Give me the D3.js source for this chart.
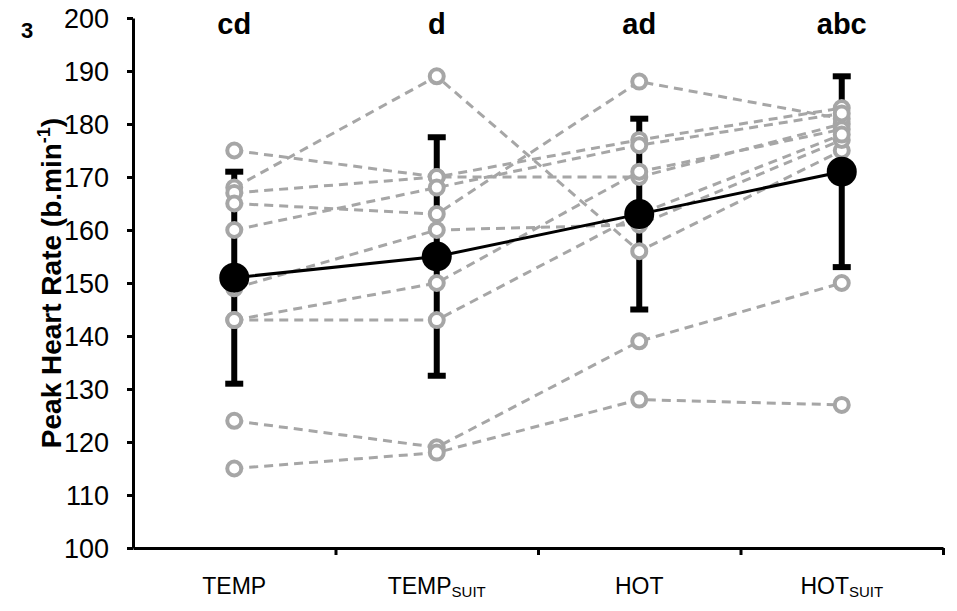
<!DOCTYPE html>
<html>
<head>
<meta charset="utf-8">
<script src="https://cdn.jsdelivr.net/npm/d3@7"></script>
<style>
  body { margin: 0; background: #fff; }
  text { font-family: Arial, "Liberation Sans", sans-serif; }
</style>
</head>
<body>
<div id="vis"></div>
<script>
// conditions on the x axis (main label + subscript)
var conditions = ['TEMP', 'TEMP_SUIT', 'HOT', 'HOT_SUIT'];
var condMain = ['TEMP', 'TEMP', 'HOT', 'HOT'];
var condSub = ['', 'SUIT', '', 'SUIT'];

// individual participants, peak HR per condition
var subjects = [
    [175, 170, 170, 180],
    [168, 189, 156, 175],
    [167, 170, 177, 183],
    [165, 163, 188, 181],
    [160, 168, 176, 182],
    [149, 160, 161, 177],
    [143, 150, 171, 179],
    [143, 143, 163, 178],
    [124, 119, 139, 150],
    [115, 118, 128, 127]
];

// group mean and SD
var means = [151, 155, 163, 171];
var sds = [20, 22.5, 18, 18];

// significance letters above each condition
var letters = ['cd', 'd', 'ad', 'abc'];

var yTicks = [100, 110, 120, 130, 140, 150, 160, 170, 180, 190, 200];

//setup drawing area
var svgW = 957, svgH = 611;
var pLeft = 133, pRight = 943, pTop = 18, pBottom = 548;
var grey = '#a6a6a6';

var svg = d3.select('#vis').append('svg').attr('width', svgW).attr('height', svgH);

var x = d3.scalePoint().domain(conditions).range([pLeft, pRight]).padding(0.5);
var xb = d3.scaleLinear().domain([0, conditions.length]).range([pLeft, pRight]);
var y = d3.scaleLinear().domain([100, 200]).range([pBottom, pTop]);

//y axis
var yAxis = svg.append('g').attr('transform', 'translate(' + pLeft + ',0)')
    .call(d3.axisLeft(y).tickValues(yTicks).tickSize(6).tickPadding(18).tickSizeOuter(0));
yAxis.select('.domain').attr('stroke', '#000').attr('stroke-width', 3);
yAxis.selectAll('.tick line').attr('stroke', '#000').attr('stroke-width', 3);
yAxis.selectAll('.tick text').attr('font-size', 27).attr('fill', '#000').attr('dy', '0.36em')
    .attr('font-family', 'Arial, "Liberation Sans", sans-serif');

//x axis, ticks between the conditions
var xAxis = svg.append('g').attr('transform', 'translate(0,' + pBottom + ')')
    .call(d3.axisBottom(xb).tickValues([1, 2, 3, 4]).tickSize(7).tickFormat('').tickSizeOuter(0));
xAxis.select('.domain').attr('stroke', '#000').attr('stroke-width', 3);
xAxis.selectAll('.tick line').attr('stroke', '#000').attr('stroke-width', 3);

//condition labels
var xl = svg.selectAll('.xlab').data(conditions).enter().append('text')
    .attr('class', 'xlab')
    .attr('x', function (d) { return x(d); })
    .attr('y', 594)
    .attr('text-anchor', 'middle')
    .attr('font-size', 23)
    .attr('fill', '#000');
xl.append('tspan').text(function (d, i) { return condMain[i]; });
xl.append('tspan').attr('font-size', 15).attr('dy', 3).text(function (d, i) { return condSub[i]; });

//y title
var yt = svg.append('text')
    .attr('transform', 'translate(61,' + ((pTop + pBottom) / 2) + ') rotate(-90)')
    .attr('text-anchor', 'middle')
    .attr('font-size', 28).attr('font-weight', 'bold');
yt.append('tspan').text('Peak Heart Rate (b.min');
yt.append('tspan').attr('font-size', 18).attr('dy', -11).text('-1');
yt.append('tspan').attr('dy', 11).text(')');

//panel number
svg.append('text').attr('x', 21).attr('y', 38).attr('font-size', 22).attr('font-weight', 'bold').text('3');

//letters
svg.selectAll('.sig').data(letters).enter().append('text')
    .attr('class', 'sig')
    .attr('x', function (d, i) { return x(conditions[i]); })
    .attr('y', 34)
    .attr('text-anchor', 'middle')
    .attr('font-size', 29).attr('font-weight', 'bold')
    .text(String);

//error bars
var eb = svg.selectAll('.eb').data(means).enter().append('g').attr('class', 'eb');
eb.append('line')
    .attr('x1', function (d, i) { return x(conditions[i]); })
    .attr('x2', function (d, i) { return x(conditions[i]); })
    .attr('y1', function (d, i) { return y(d + sds[i]); })
    .attr('y2', function (d, i) { return y(d - sds[i]); })
    .attr('stroke', '#000').attr('stroke-width', 6);
[1, -1].forEach(function (s) {
    eb.append('line')
        .attr('x1', function (d, i) { return x(conditions[i]) - 9; })
        .attr('x2', function (d, i) { return x(conditions[i]) + 9; })
        .attr('y1', function (d, i) { return y(d + s * sds[i]); })
        .attr('y2', function (d, i) { return y(d + s * sds[i]); })
        .attr('stroke', '#000').attr('stroke-width', 6);
});

//individual lines
var line = d3.line().x(function (d, i) { return x(conditions[i]); }).y(function (d) { return y(d); });
var sg = svg.selectAll('.subj').data(subjects).enter().append('g').attr('class', 'subj');
sg.append('path')
    .attr('d', line)
    .attr('fill', 'none').attr('stroke', grey).attr('stroke-width', 3)
    .attr('stroke-dasharray', '9,6');
sg.selectAll('circle').data(function (d) { return d; }).enter().append('circle')
    .attr('cx', function (d, i) { return x(conditions[i]); })
    .attr('cy', function (d) { return y(d); })
    .attr('r', 7)
    .attr('fill', '#fff').attr('stroke', grey).attr('stroke-width', 4);

//mean line + dots
svg.append('path').datum(means)
    .attr('d', line)
    .attr('fill', 'none').attr('stroke', '#000').attr('stroke-width', 3);
svg.selectAll('.mean').data(means).enter().append('circle')
    .attr('class', 'mean')
    .attr('cx', function (d, i) { return x(conditions[i]); })
    .attr('cy', function (d) { return y(d); })
    .attr('r', 15)
    .attr('fill', '#000');
</script>
</body>
</html>
